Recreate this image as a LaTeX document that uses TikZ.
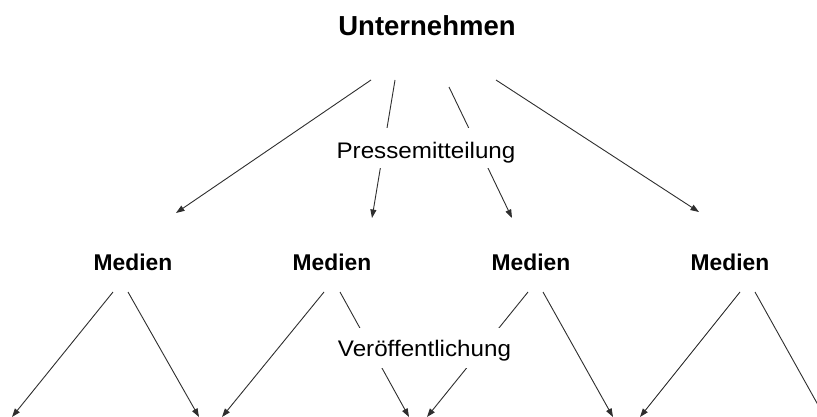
\documentclass[tikz,border=0pt]{standalone}
\usepackage{fontspec}
\setmainfont{Liberation Sans}
\usetikzlibrary{arrows.meta}
\begin{document}
\begin{tikzpicture}[x=1pt,y=-1pt,
  conn/.style={draw=black!82,line width=0.9pt,-{Triangle[length=8.5pt,width=6pt]}},
  headlbl/.style={anchor=base,inner sep=0pt,font=\bfseries\fontsize{27.5}{30}\selectfont},
  medlbl/.style={anchor=base,inner sep=0pt,font=\bfseries\fontsize{22.8}{26}\selectfont},
  gaplbl/.style={anchor=base,inner sep=0pt,inner xsep=1pt,fill=white,font=\fontsize{22.5}{26}\selectfont}]
\useasboundingbox (0,0) rectangle (817,417);
\clip (0,0) rectangle (817,417);
% start and end points
\coordinate (u1) at (371,80);  \coordinate (e1) at (176,213);
\coordinate (u2) at (395,80);  \coordinate (e2) at (372,218);
\coordinate (u3) at (449,87);  \coordinate (e3) at (512,218);
\coordinate (u4) at (496,80);  \coordinate (e4) at (699,212);
\coordinate (m1a) at (113,292); \coordinate (f1) at (12,417);
\coordinate (m1b) at (128,292); \coordinate (f2) at (199,417);
\coordinate (m2a) at (324,292); \coordinate (f3) at (222,417);
\coordinate (m2b) at (340,292); \coordinate (f4) at (409,417);
\coordinate (m3a) at (528,292); \coordinate (f5) at (427,417);
\coordinate (m3b) at (543,292); \coordinate (f6) at (613,417);
\coordinate (m4a) at (740,292); \coordinate (f7) at (640,417);
\coordinate (m4b) at (755,292); \coordinate (f8) at (832,430);
% connectors
\foreach \a/\b in {u1/e1,u2/e2,u3/e3,u4/e4,m1a/f1,m1b/f2,m2a/f3,m2b/f4,m3a/f5,m3b/f6,m4a/f7,m4b/f8}
  \draw[conn] (\a) -- (\b);
% labels
\node[headlbl] (U) at (427,35.3) {Unternehmen};
\node[gaplbl,text height=31pt,text depth=9pt] (P) at (426,159) {\scalebox{1.075}[1]{Pressemitteilung}};
\node[medlbl] (M1) at (133,270.7) {Medien};
\node[medlbl] (M2) at (332,270.7) {Medien};
\node[medlbl] (M3) at (531,270.7) {Medien};
\node[medlbl] (M4) at (730,270.7) {Medien};
\node[gaplbl,text height=29pt,text depth=11pt] (V) at (424.5,356.7) {\scalebox{1.075}[1]{Veröffentlichung}};
\end{tikzpicture}
\end{document}
